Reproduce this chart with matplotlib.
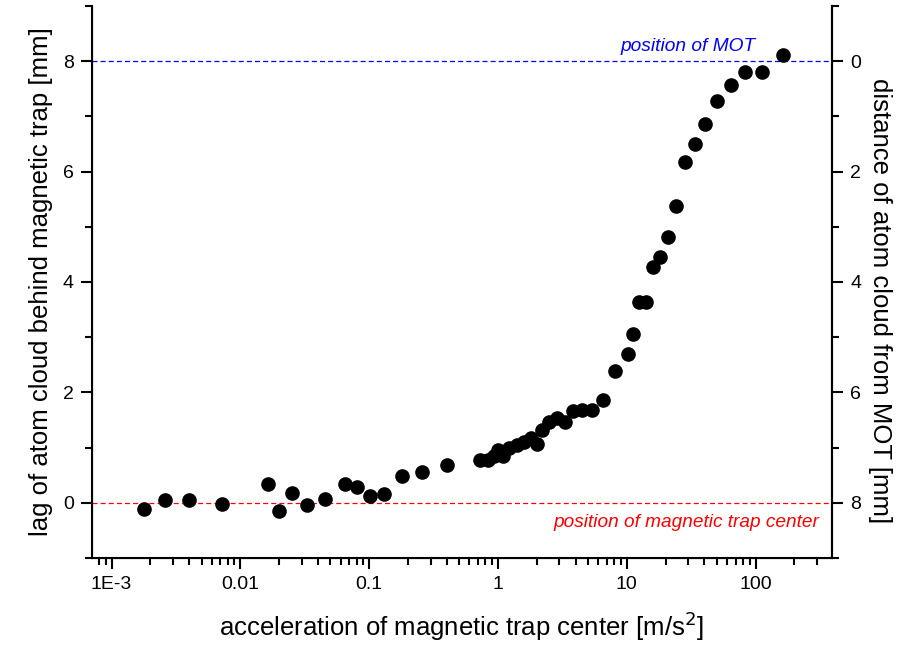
import matplotlib
matplotlib.use("Agg")
import matplotlib.pyplot as plt
from matplotlib.ticker import NullFormatter, LogLocator, MultipleLocator

plt.rcParams['font.family'] = ['Liberation Sans', 'DejaVu Sans']

accel = [1.79e-3, 2.61e-3, 4.0e-3, 7.16e-3, 0.0163, 0.020, 0.0252, 0.0329, 0.0451,
         0.0645, 0.080, 0.101, 0.131, 0.180, 0.258, 0.402,
         0.72, 0.83, 0.93, 1.0, 1.1, 1.22, 1.4, 1.6, 1.8, 2.0, 2.2, 2.5, 2.85, 3.3,
         3.85, 4.5, 5.4, 6.5, 8.1, 10.2, 11.2, 12.5, 14.1, 15.9, 18.1, 20.8, 24.1,
         28.5, 33.7, 40.7, 50.5, 64, 83, 113, 162]
lag = [-0.11, 0.05, 0.05, -0.03, 0.34, -0.15, 0.18, -0.04, 0.07,
       0.34, 0.28, 0.13, 0.15, 0.49, 0.56, 0.68,
       0.78, 0.77, 0.85, 0.96, 0.85, 1.0, 1.05, 1.1, 1.18, 1.07, 1.32, 1.46, 1.53, 1.47,
       1.66, 1.68, 1.68, 1.86, 2.38, 2.7, 3.06, 3.64, 3.64, 4.27, 4.45, 4.82, 5.37,
       6.17, 6.5, 6.86, 7.28, 7.56, 7.8, 7.8, 8.12]

mot_pos = 8.0
trap_pos = 0.0
x_ticks = [1e-3, 1e-2, 1e-1, 1, 10, 100]
x_ticklabels = ["1E-3", "0.01", "0.1", "1", "10", "100"]
right_ticks = [0, 2, 4, 6, 8]

fig = plt.figure(figsize=(8.97, 6.51), dpi=100)
ax = fig.add_axes([0.1026, 0.1429, 0.8249, 0.8479])

ax.set_xscale('log')
ax.set_xlim(7.05e-4, 392)
ax.set_ylim(-1, 9)

ax.axhline(mot_pos, color='#0000ff', lw=0.9, ls=(0, (4, 2.5)), zorder=1)
ax.axhline(trap_pos, color='#ff0000', lw=0.9, ls=(0, (4, 2.5)), zorder=1)
ax.plot(accel, lag, 'o', color='black', ms=9.5, zorder=3, clip_on=False)

ax.text(29.9, 8.27, "position of MOT", color='#0000ff', style='italic', fontsize=13.8,
        ha='center', va='center')
ax.text(28.8, -0.35, "position of magnetic trap center", color='#ff0000', style='italic',
        fontsize=13.7, ha='center', va='center')

ax.set_xticks(x_ticks)
ax.set_xticklabels(x_ticklabels)
ax.xaxis.set_minor_locator(LogLocator(base=10, subs=range(2, 10), numticks=20))
ax.xaxis.set_minor_formatter(NullFormatter())
ax.yaxis.set_major_locator(MultipleLocator(2))
ax.yaxis.set_minor_locator(MultipleLocator(1))

ax.spines['top'].set_visible(False)
for s in ['left', 'right', 'bottom']:
    ax.spines[s].set_linewidth(1.5)

ax.tick_params(which='major', direction='out', length=8, width=1.5, labelsize=14, pad=5)
ax.tick_params(which='minor', direction='out', length=5, width=1.5)
ax.tick_params(axis='y', which='both', right=False)

ax2 = ax.twinx()
ax2.set_ylim(mot_pos + 1, mot_pos - 9)
ax2.set_yticks(right_ticks)
ax2.yaxis.set_minor_locator(MultipleLocator(1))
ax2.spines['top'].set_visible(False)
ax2.spines['right'].set_linewidth(1.5)
ax2.tick_params(which='major', direction='out', length=8, width=1.5, labelsize=14, pad=5)
ax2.tick_params(which='minor', direction='out', length=5, width=1.5)

ax.set_xlabel("acceleration of magnetic trap center [m/s$^2$]", fontsize=18.5, labelpad=12)
ax.set_ylabel("lag of atom cloud behind magnetic trap [mm]", fontsize=18.5, labelpad=7)
ax2.set_ylabel("distance of atom cloud from MOT [mm]", fontsize=18.5, rotation=270,
               labelpad=22)
ax2.yaxis.label.set_y(0.467)

fig.savefig("out.png", dpi=100)
